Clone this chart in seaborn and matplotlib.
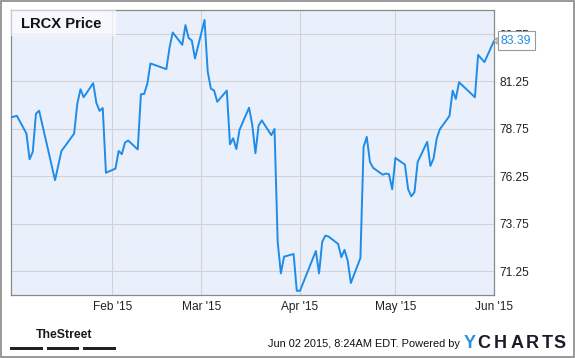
import matplotlib
matplotlib.use("Agg")
import matplotlib.pyplot as plt
import matplotlib.dates as mdates
from matplotlib.patches import Rectangle
import pandas as pd
import seaborn as sns

# ---- data ----
dates = [
    "2014-12-31", "2015-01-02", "2015-01-05", "2015-01-06", "2015-01-07", "2015-01-08",
    "2015-01-09", "2015-01-14", "2015-01-16", "2015-01-20", "2015-01-21", "2015-01-22",
    "2015-01-23", "2015-01-26", "2015-01-27", "2015-01-28", "2015-01-29", "2015-01-30",
    "2015-02-02", "2015-02-03", "2015-02-04", "2015-02-05", "2015-02-06", "2015-02-09",
    "2015-02-10", "2015-02-11", "2015-02-12", "2015-02-13", "2015-02-18", "2015-02-19",
    "2015-02-20", "2015-02-23", "2015-02-24", "2015-02-25", "2015-02-26", "2015-02-27",
    "2015-03-02", "2015-03-03", "2015-03-04", "2015-03-05", "2015-03-06", "2015-03-09",
    "2015-03-10", "2015-03-11", "2015-03-12", "2015-03-13", "2015-03-16", "2015-03-17",
    "2015-03-18", "2015-03-19", "2015-03-20", "2015-03-23", "2015-03-24", "2015-03-25",
    "2015-03-26", "2015-03-27", "2015-03-30", "2015-03-31", "2015-04-01", "2015-04-06",
    "2015-04-07", "2015-04-08", "2015-04-09", "2015-04-10", "2015-04-13", "2015-04-14",
    "2015-04-15", "2015-04-16", "2015-04-17", "2015-04-20", "2015-04-21", "2015-04-22",
    "2015-04-23", "2015-04-24", "2015-04-27", "2015-04-28", "2015-04-29", "2015-04-30",
    "2015-05-01", "2015-05-04", "2015-05-05", "2015-05-06", "2015-05-07", "2015-05-08",
    "2015-05-11", "2015-05-12", "2015-05-13", "2015-05-14", "2015-05-15", "2015-05-18",
    "2015-05-19", "2015-05-20", "2015-05-21", "2015-05-26", "2015-05-27", "2015-05-29",
    "2015-06-01",
]
prices = [
    79.35, 79.44, 78.51, 77.15, 77.54, 79.55,
    79.71, 76.05, 77.58, 78.50, 80.08, 80.84,
    80.42, 81.16, 80.12, 79.70, 79.85, 76.44,
    76.66, 77.59, 77.42, 78.03, 78.14, 77.67,
    80.58, 80.59, 81.12, 82.20, 81.90, 83.04,
    83.83, 83.18, 84.22, 83.54, 83.41, 82.46,
    84.49, 81.77, 80.87, 80.78, 80.18, 80.77,
    77.94, 78.26, 77.69, 78.71, 79.87, 78.97,
    77.47, 78.93, 79.20, 78.42, 78.75, 72.78,
    71.14, 72.02, 72.16, 70.22, 70.22, 72.32,
    71.14, 72.81, 73.13, 73.08, 72.69, 71.99,
    72.38, 71.81, 70.63, 71.95, 77.80, 78.33,
    77.01, 76.70, 76.34, 76.40, 76.36, 75.57,
    77.22, 76.87, 75.57, 75.20, 75.42, 77.01,
    78.07, 76.80, 77.19, 78.25, 78.74, 79.43,
    80.77, 80.33, 81.21, 80.42, 82.65, 82.27,
    83.39,
]
y_ticks = [71.25, 73.75, 76.25, 78.75, 81.25, 83.75]
x_ticks = ["2015-02-01", "2015-03-01", "2015-04-01", "2015-05-01", "2015-06-01"]
title = "LRCX Price"
last_label = "83.39"

df = pd.DataFrame({"date": pd.to_datetime(dates), "price": prices})

sns.set_style("white")
plt.rcParams["font.family"] = ["Liberation Sans", "DejaVu Sans"]

W, H = 575, 358
fig = plt.figure(figsize=(W / 100, H / 100), dpi=100)
fig.patch.set_facecolor("white")
L, R, T, B = 10.5, 494, 10.3, 295
ax = fig.add_axes([L / W, 1 - B / H, (R - L) / W, (B - T) / H])
ax.set_facecolor("#EAF0FB")

line_color = "#1E8CE8"
sns.lineplot(data=df, x="date", y="price", ax=ax, color=line_color, linewidth=1.4, zorder=3)

ax.set_xlim(pd.Timestamp("2014-12-31"), pd.Timestamp("2015-06-01"))
ax.set_ylim(70, 85)
ax.set_xlabel("")
ax.set_ylabel("")

ax.set_xticks(pd.to_datetime(x_ticks))
ax.xaxis.set_major_formatter(mdates.DateFormatter("%b '%y"))
ax.set_yticks(y_ticks)
ax.set_yticklabels([f"{v:.2f}" for v in y_ticks])
ax.yaxis.tick_right()
ax.tick_params(axis="both", length=0, labelsize=8.6, colors="#222222")
ax.tick_params(axis="x", pad=4.5)
ax.tick_params(axis="y", pad=3.6)
ax.grid(True, color="#D2D2D2", linewidth=0.75)
ax.set_axisbelow(True)
for s in ax.spines.values():
    s.set_visible(True)
    s.set_color("#8A8A8A")
    s.set_linewidth(0.9)

# title box
ax.add_patch(Rectangle((0, 1 - 25.5 / (B - T)), 105.5 / (R - L), 25.5 / (B - T),
                       transform=ax.transAxes, facecolor="white", alpha=0.55,
                       edgecolor="none", zorder=4))
ax.text(10.5 / (R - L), 1 - 13.2 / (B - T), title, transform=ax.transAxes,
        fontsize=10.6, fontweight="bold", color="#111111", va="center", ha="left", zorder=5)

# last value annotation
last_x = df["date"].iloc[-1]
last_y = df["price"].iloc[-1]
ax.annotate(last_label, xy=(last_x, last_y), xytext=(5.0, 0), textcoords="offset points",
            fontsize=8.8, color="#1E8CE8", va="center", ha="left",
            bbox=dict(boxstyle="square,pad=0.28", fc="white", ec="#9A9A9A", lw=0.8),
            arrowprops=dict(arrowstyle="wedge,tail_width=0.5", fc="white", ec="#9A9A9A",
                            lw=0.8, shrinkA=0, shrinkB=0),
            annotation_clip=False, zorder=6)

# outer border
fig.add_artist(Rectangle((0.5 / W, 1.5 / H), (W - 1.5) / W, (H - 2.5) / H,
                         transform=fig.transFigure, fill=False, edgecolor="#888888",
                         linewidth=1.2))

# footer: TheStreet
fig.text(36 / W, 1 - 335.5 / H, "TheStreet", fontsize=8.8, fontweight="bold",
         family=["Liberation Sans Narrow", "Liberation Sans"], fontstretch="condensed",
         color="#1a1a1a", va="center", ha="left")
for x0, x1 in [(10, 42.7), (46.7, 79), (83.3, 116)]:
    fig.add_artist(Rectangle((x0 / W, 1 - 350.2 / H), (x1 - x0) / W, 3 / H,
                             transform=fig.transFigure, facecolor="#222222", edgecolor="none"))

# footer: date + Powered by YCHARTS
fig.text(460 / W, 1 - 344 / H, "Jun 02 2015, 8:24AM EDT. Powered by", fontsize=7.9,
         color="#111111", va="center", ha="right")
ycharts = "YCHARTS"
letter_x = [470, 484, 500.5, 517, 532.5, 547, 559.5]
for i, (ch, lx) in enumerate(zip(ycharts, letter_x)):
    fig.text(lx / W, 1 - 344 / H, ch, fontsize=13, fontweight="bold",
             color=("#2A8FDF" if i == 0 else "#1B1B2A"),
             va="center", ha="center")

fig.savefig("out.png", dpi=100)
